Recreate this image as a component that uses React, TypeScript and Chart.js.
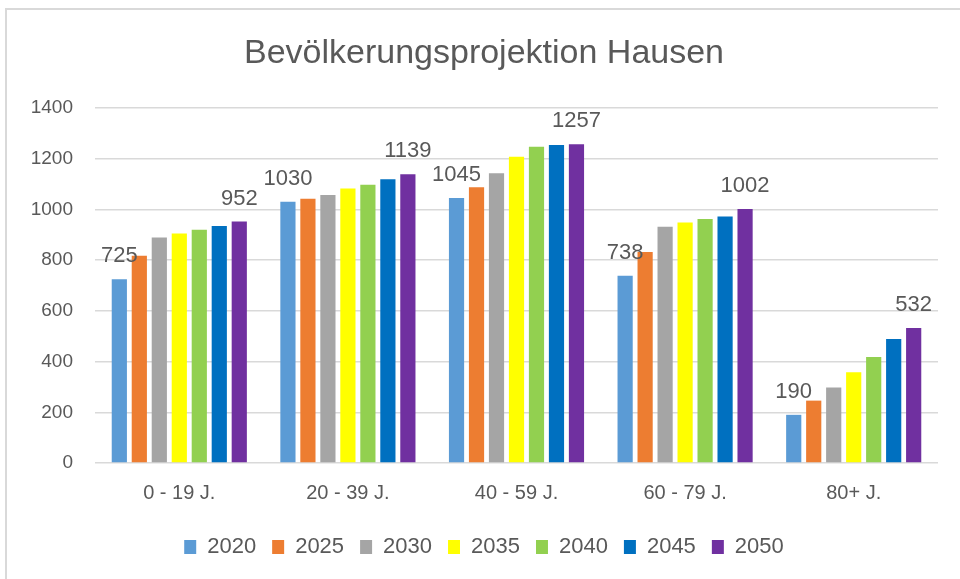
import { useEffect, useRef } from "react";
import { Chart, registerables } from "chart.js";

Chart.register(...registerables);

const TITLE = "Bevölkerungsprojektion Hausen";
const categories = ["0 - 19 J.", "20 - 39 J.", "40 - 59 J.", "60 - 79 J.", "80+ J."];
const years = ["2020", "2025", "2030", "2035", "2040", "2045", "2050"];
const v2020 = [725, 1030, 1045, 738, 190];
const v2025 = [817, 1042, 1087, 832, 246];
const v2030 = [889, 1057, 1143, 932, 298];
const v2035 = [905, 1083, 1208, 948, 358];
const v2040 = [920, 1097, 1247, 962, 418];
const v2045 = [935, 1119, 1254, 972, 489];
const v2050 = [952, 1139, 1257, 1002, 532];
const colors = ["#5B9BD5", "#ED7D31", "#A5A5A5", "#FFFF00", "#92D050", "#0070C0", "#7030A0"];
const labelledSeries = [0, 6];
const yMin = 0;
const yMax = 1400;
const yStep = 200;

const FONT = "'Liberation Sans', Arial, sans-serif";
const TEXT = "#595959";

const dataLabelPlugin = {
  id: "dataLabels",
  afterDatasetsDraw(chart: any) {
    const ctx = chart.ctx;
    ctx.save();
    ctx.fillStyle = TEXT;
    ctx.font = `22px ${FONT}`;
    ctx.textAlign = "center";
    ctx.textBaseline = "alphabetic";
    labelledSeries.forEach((di) => {
      const meta = chart.getDatasetMeta(di);
      meta.data.forEach((bar: any, i: number) => {
        const v = chart.data.datasets[di].data[i];
        ctx.fillText(String(v), bar.x, bar.y - 17);
      });
    });
    ctx.restore();
  },
};

export default function App() {
  const ref = useRef<HTMLCanvasElement | null>(null);

  useEffect(() => {
    document.body.style.margin = "0";
    const series = [v2020, v2025, v2030, v2035, v2040, v2045, v2050];
    const chart = new Chart(ref.current as HTMLCanvasElement, {
      type: "bar",
      data: {
        labels: categories,
        datasets: years.map((y, i) => ({
          label: y,
          data: series[i],
          backgroundColor: colors[i],
          borderWidth: 0,
          categoryPercentage: 0.83,
          barPercentage: 0.76,
        })),
      },
      options: {
        animation: false,
        responsive: false,
        devicePixelRatio: 1,
        layout: { padding: { left: 30, right: 22, top: 0, bottom: 11 } },
        plugins: {
          title: {
            display: true,
            text: TITLE,
            color: TEXT,
            font: { family: FONT, size: 34, weight: "normal", lineHeight: 1.2 },
            padding: { top: 33.6, bottom: 33.6 },
          },
          legend: {
            position: "bottom",
            labels: {
              color: TEXT,
              font: { family: FONT, size: 22 },
              boxWidth: 12,
              boxHeight: 14,
              padding: 16,
            },
          },
          tooltip: { enabled: false },
        },
        scales: {
          x: {
            grid: { display: false, drawTicks: false, tickLength: 0 },
            border: { display: false },
            ticks: { color: TEXT, font: { family: FONT, size: 20 }, padding: 18 },
            afterFit: (s: any) => {
              s.height = 57;
            },
          },
          y: {
            min: yMin,
            max: yMax,
            ticks: {
              stepSize: yStep,
              color: TEXT,
              font: { family: FONT, size: 19 },
              padding: 22,
              callback: (v: any) => String(v),
            },
            grid: { color: "#d9d9d9", lineWidth: 1.5, drawTicks: false },
            border: { display: false },
            afterFit: (s: any) => {
              s.width = 65;
            },
          },
        },
      },
      plugins: [dataLabelPlugin],
    } as any);
    return () => chart.destroy();
  }, []);

  return (
    <div style={{ position: "relative", width: 960, height: 579, overflow: "hidden", background: "#fff" }}>
      <div
        style={{
          position: "absolute",
          left: 5,
          top: 8,
          width: 1000,
          height: 700,
          border: "2px solid #d9d9d9",
          boxSizing: "border-box",
        }}
      />
      <canvas ref={ref} width={960} height={579} style={{ position: "absolute", left: 0, top: 0 }} />
    </div>
  );
}
